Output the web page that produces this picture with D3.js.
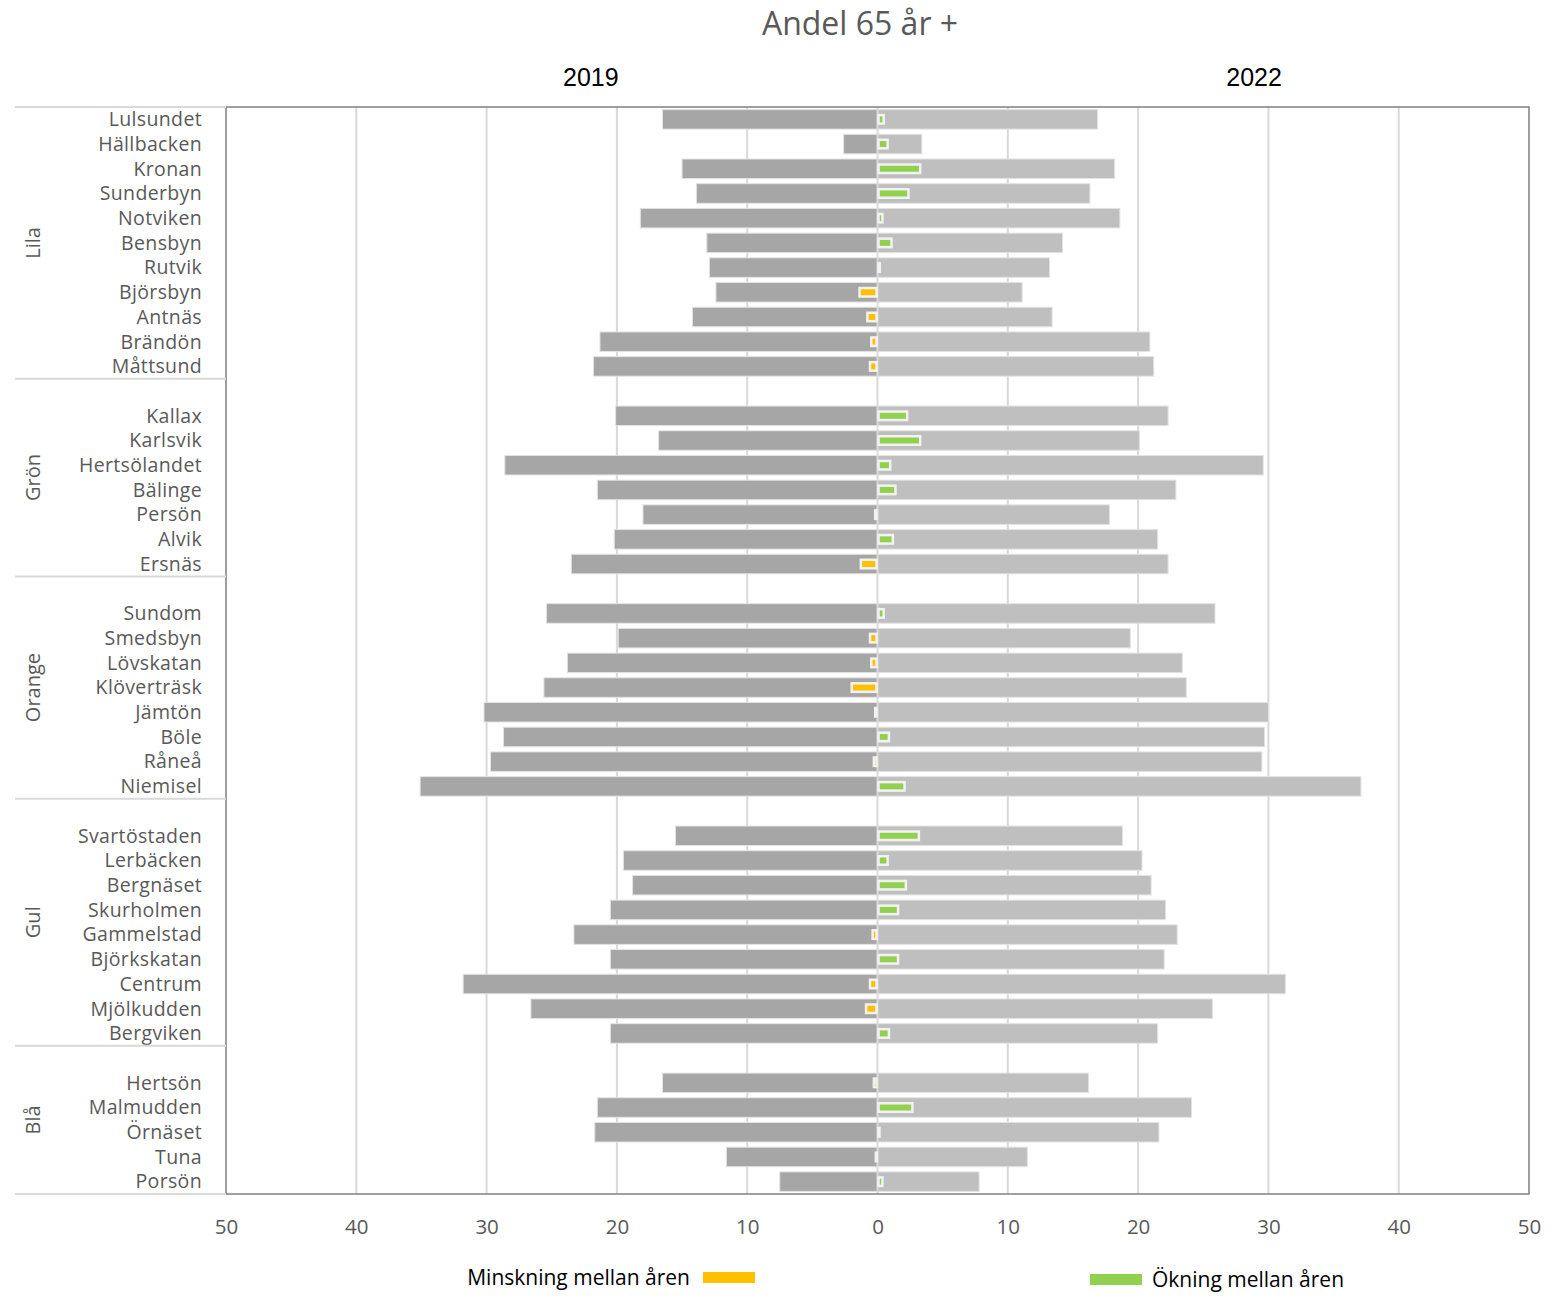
<!DOCTYPE html>
<html>
<head>
<meta charset="utf-8">
<script src="https://cdn.jsdelivr.net/npm/d3@7"></script>
<style>
  html, body { margin: 0; padding: 0; background: #fff; }
  svg { display: block; }
</style>
</head>
<body>
<svg id="chart" width="1551" height="1298"></svg>
<script>
// ---------- DATA ----------
const groups = ["Lila", "Grön", "Orange", "Gul", "Blå"];
const areas = [
  "Lulsundet","Hällbacken","Kronan","Sunderbyn","Notviken","Bensbyn","Rutvik","Björsbyn","Antnäs","Brändön","Måttsund",
  "Kallax","Karlsvik","Hertsölandet","Bälinge","Persön","Alvik","Ersnäs",
  "Sundom","Smedsbyn","Lövskatan","Klöverträsk","Jämtön","Böle","Råneå","Niemisel",
  "Svartöstaden","Lerbäcken","Bergnäset","Skurholmen","Gammelstad","Björkskatan","Centrum","Mjölkudden","Bergviken",
  "Hertsön","Malmudden","Örnäset","Tuna","Porsön"
];
const areaGroup = [
  "Lila","Lila","Lila","Lila","Lila","Lila","Lila","Lila","Lila","Lila","Lila",
  "Grön","Grön","Grön","Grön","Grön","Grön","Grön",
  "Orange","Orange","Orange","Orange","Orange","Orange","Orange","Orange",
  "Gul","Gul","Gul","Gul","Gul","Gul","Gul","Gul","Gul",
  "Blå","Blå","Blå","Blå","Blå"
];
const values2019 = [
  16.5, 2.6, 15.0, 13.9, 18.2, 13.1, 12.9, 12.4, 14.2, 21.3, 21.8,
  20.1, 16.8, 28.6, 21.5, 18.0, 20.2, 23.5,
  25.4, 19.9, 23.8, 25.6, 30.2, 28.7, 29.7, 35.1,
  15.5, 19.5, 18.8, 20.5, 23.3, 20.5, 31.8, 26.6, 20.5,
  16.5, 21.5, 21.7, 11.6, 7.5
];
const values2022 = [
  16.9, 3.4, 18.2, 16.3, 18.6, 14.2, 13.2, 11.1, 13.4, 20.9, 21.2,
  22.3, 20.1, 29.6, 22.9, 17.8, 21.5, 22.3,
  25.9, 19.4, 23.4, 23.7, 30.0, 29.7, 29.5, 37.1,
  18.8, 20.3, 21.0, 22.1, 23.0, 22.0, 31.3, 25.7, 21.5,
  16.2, 24.1, 21.6, 11.5, 7.8
];
const change = [
  0.4, 0.7, 3.2, 2.3, 0.3, 1.0, 0.1, -1.3, -0.7, -0.4, -0.5,
  2.2, 3.2, 0.9, 1.3, -0.1, 1.1, -1.2,
  0.4, -0.5, -0.4, -1.9, -0.1, 0.8, -0.2, 2.0,
  3.1, 0.7, 2.1, 1.5, -0.3, 1.5, -0.5, -0.8, 0.8,
  -0.2, 2.6, 0.05, -0.05, 0.3
];
const xTicks = [-50, -40, -30, -20, -10, 0, 10, 20, 30, 40, 50];
const title = "Andel 65 år +";
const yearLabels = ["2019", "2022"];
const legendLabels = ["Minskning mellan åren", "Ökning mellan åren"];

// ---------- LAYOUT ----------
const svg = d3.select("#chart");
const plot = { left: 226, right: 1529, top: 107, bottom: 1194 };
const labelFont = "'Open Sans', sans-serif";

// rows: blank spacer row before each group except the first
const rows = [];
groups.forEach((g, gi) => {
  if (gi > 0) rows.push({ id: "blank-" + g, group: g, blank: true });
  areas.forEach((a, i) => {
    if (areaGroup[i] === g) rows.push({ id: a, group: g, blank: false, i });
  });
});

const x = d3.scaleLinear().domain([-50, 50]).range([plot.left, plot.right]);
const y = d3.scaleBand().domain(rows.map(r => r.id)).range([plot.top, plot.bottom])
  .paddingInner(0.21).paddingOuter(0.105);

// gridlines
svg.append("g").selectAll("line").data(xTicks.filter(t => t !== -50 && t !== 50 && t !== 0))
  .join("line")
  .attr("x1", d => x(d)).attr("x2", d => x(d))
  .attr("y1", plot.top).attr("y2", plot.bottom)
  .attr("stroke", "#d9d9d9").attr("stroke-width", 2);

const data = rows.filter(r => !r.blank);

// 2019 bars (left)
svg.append("g").selectAll("rect").data(data).join("rect")
  .attr("x", d => x(-values2019[d.i]))
  .attr("y", d => y(d.id))
  .attr("width", d => x(0) - x(-values2019[d.i]))
  .attr("height", y.bandwidth())
  .attr("fill", "#a6a6a6").attr("stroke", "#e3e3e3").attr("stroke-width", 1);

// 2022 bars (right)
svg.append("g").selectAll("rect").data(data).join("rect")
  .attr("x", x(0))
  .attr("y", d => y(d.id))
  .attr("width", d => x(values2022[d.i]) - x(0))
  .attr("height", y.bandwidth())
  .attr("fill", "#bfbfbf").attr("stroke", "#e3e3e3").attr("stroke-width", 1);

// zero line
svg.append("line")
  .attr("x1", x(0)).attr("x2", x(0)).attr("y1", plot.top).attr("y2", plot.bottom)
  .attr("stroke", "#d9d9d9").attr("stroke-width", 2);

// change bars
const cH = 8.5;
svg.append("g").selectAll("rect").data(data).join("rect")
  .attr("x", d => change[d.i] >= 0 ? x(0) + 1 : x(change[d.i]) - 1)
  .attr("y", d => y(d.id) + y.bandwidth() / 2 - cH / 2)
  .attr("width", d => Math.max(1, Math.abs(x(change[d.i]) - x(0))))
  .attr("height", cH)
  .attr("fill", d => change[d.i] >= 0 ? "#92d050" : "#ffc000")
  .attr("stroke", "#f2f2f2").attr("stroke-width", 2.5);

// plot frame
svg.append("rect")
  .attr("x", plot.left).attr("y", plot.top)
  .attr("width", plot.right - plot.left).attr("height", plot.bottom - plot.top)
  .attr("fill", "none").attr("stroke", "#808080").attr("stroke-width", 1.5);

// category labels
svg.append("g").selectAll("text").data(data).join("text")
  .attr("x", 202)
  .attr("y", d => y(d.id) + y.bandwidth() / 2)
  .attr("dy", "0.35em")
  .attr("text-anchor", "end")
  .attr("font-family", labelFont).attr("font-size", 19.5)
  .attr("letter-spacing", 0.35)
  .attr("fill", "#595959")
  .text(d => d.id);

// group separators + labels
const groupInfo = groups.map(g => {
  const rs = rows.filter(r => r.group === g);
  const gap = (y.step() - y.bandwidth()) / 2;
  return { g, y0: y(rs[0].id) - gap, y1: y(rs[rs.length - 1].id) + y.bandwidth() + gap };
});
groupInfo[0].y0 = plot.top;
groupInfo[groupInfo.length - 1].y1 = plot.bottom;

const sepYs = [plot.top].concat(groupInfo.map(d => d.y1));
svg.append("g").selectAll("line").data(sepYs).join("line")
  .attr("x1", 15).attr("x2", plot.left)
  .attr("y1", d => d).attr("y2", d => d)
  .attr("stroke", "#d9d9d9").attr("stroke-width", 2);

svg.append("g").selectAll("text").data(groupInfo).join("text")
  .attr("transform", d => `translate(33,${(d.y0 + d.y1) / 2}) rotate(-90)`)
  .attr("dy", "0.35em")
  .attr("text-anchor", "middle")
  .attr("font-family", labelFont).attr("font-size", 20)
  .attr("fill", "#595959")
  .text(d => d.g);

// x axis
const xAxis = d3.axisBottom(x).tickValues(xTicks).tickSize(0).tickFormat(d => Math.abs(d));
const ax = svg.append("g").attr("transform", `translate(0,${plot.bottom})`).call(xAxis);
ax.select(".domain").remove();
ax.selectAll("text")
  .attr("y", 40).attr("dy", "0")
  .attr("font-family", labelFont).attr("font-size", 20.5)
  .attr("fill", "#595959");

// title
svg.append("text")
  .attr("x", 860).attr("y", 35)
  .attr("text-anchor", "middle")
  .attr("font-family", labelFont).attr("font-size", 32)
  .attr("fill", "#595959")
  .text(title);

// year labels
svg.append("g").selectAll("text").data(yearLabels).join("text")
  .attr("x", (d, i) => i === 0 ? x(-22) : x(28.9))
  .attr("y", 86)
  .attr("text-anchor", "middle")
  .attr("font-family", "'Liberation Sans', Arial, sans-serif").attr("font-size", 25)
  .attr("fill", "#000")
  .text(d => d);

// legend
const leg = svg.append("g");
leg.append("text").attr("x", 690).attr("y", 1285).attr("text-anchor", "end")
  .attr("font-family", labelFont).attr("font-size", 21).attr("fill", "#000")
  .text(legendLabels[0]);
leg.append("rect").attr("x", 703).attr("y", 1272).attr("width", 52).attr("height", 11).attr("fill", "#ffc000");
leg.append("rect").attr("x", 1090).attr("y", 1274).attr("width", 52).attr("height", 11).attr("fill", "#92d050");
leg.append("text").attr("x", 1152).attr("y", 1287).attr("text-anchor", "start")
  .attr("font-family", labelFont).attr("font-size", 21).attr("fill", "#000")
  .text(legendLabels[1]);
</script>
</body>
</html>
